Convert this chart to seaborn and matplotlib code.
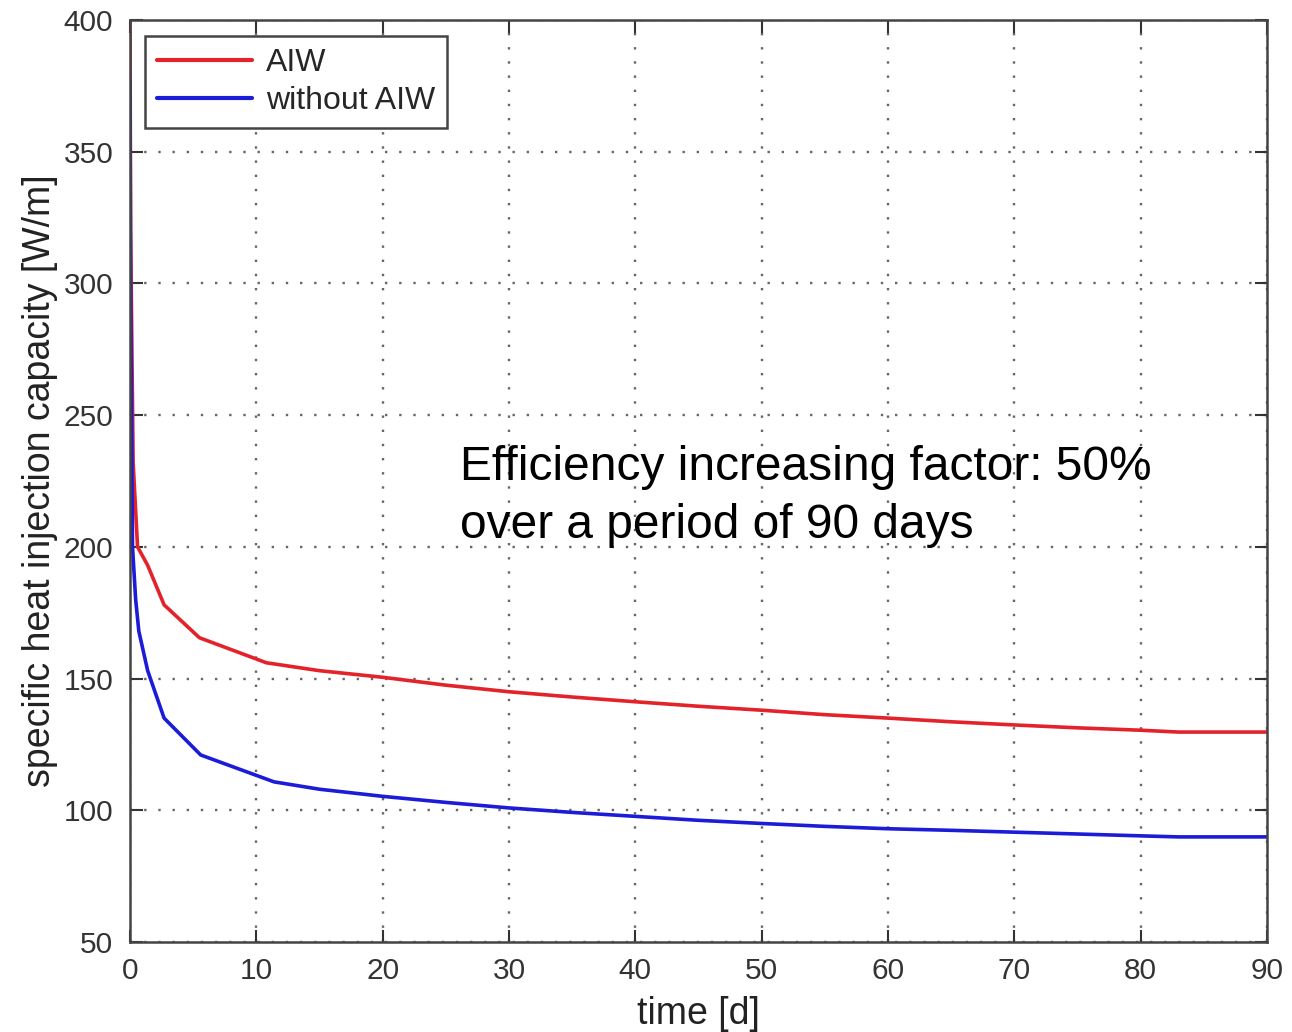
import matplotlib
matplotlib.use("Agg")
import matplotlib.pyplot as plt
import pandas as pd
import seaborn as sns

# time axis [d] and heat injection capacity [W/m]
t_aiw = [0, 0.05, 0.25, 0.6, 1.4, 2.7, 5.5, 10.8, 15, 20, 25, 30, 35, 40, 45, 50,
         55, 60, 65, 70, 75, 80, 83, 90]
q_aiw = [400, 320, 232, 200, 193, 178, 165.5, 156, 153, 150.5, 147.5, 145, 143, 141.2,
         139.5, 138, 136.3, 135, 133.6, 132.4, 131.3, 130.4, 129.7, 129.7]

t_noaiw = [0, 0.05, 0.2, 0.45, 0.7, 1.4, 2.7, 5.6, 11.4, 15, 20, 25, 30, 35, 40, 45,
           50, 55, 60, 65, 70, 75, 80, 83, 90]
q_noaiw = [377, 300, 200, 180, 168, 153, 135, 121, 110.8, 108, 105.3, 103, 100.9, 99.2,
           97.7, 96.2, 95, 93.9, 93, 92.4, 91.7, 91, 90.3, 89.9, 89.9]

series_names = ["AIW", "without AIW"]
x_ticks = [0, 10, 20, 30, 40, 50, 60, 70, 80, 90]
y_ticks = [50, 100, 150, 200, 250, 300, 350, 400]
note_lines = ["Efficiency increasing factor: 50%", "over a period of 90 days"]

df = pd.concat([
    pd.DataFrame({"time": t_aiw, "q": q_aiw, "case": series_names[0]}),
    pd.DataFrame({"time": t_noaiw, "q": q_noaiw, "case": series_names[1]}),
])

sns.set_style("ticks")
plt.rcParams["font.family"] = ["Liberation Sans", "DejaVu Sans"]

fig = plt.figure(figsize=(12.92, 10.32), dpi=100)
ax = fig.add_axes([0.1006, 0.0872, 0.880, 0.8934])

sns.lineplot(data=df, x="time", y="q", hue="case", palette=["#e3222a", "#1c1cd8"],
             linewidth=2.6, ax=ax, sort=False, estimator=None)

ax.set_xlim(0, 90)
ax.set_ylim(50, 400)
ax.set_xticks(x_ticks)
ax.set_yticks(y_ticks)
ax.grid(True, linestyle=(0, (1, 5)), linewidth=1.7, color="#666666")
ax.tick_params(direction="in", length=9, width=1.5, labelsize=21.5, colors="#333333",
               top=True, right=True, pad=12)
ax.tick_params(axis="x", pad=11)
for s in ax.spines.values():
    s.set_color("#444444")
    s.set_linewidth(1.8)

ax.set_xlabel("time [d]", fontsize=27, color="#222222", labelpad=8)
ax.set_ylabel("specific heat injection capacity [W/m]", fontsize=27, color="#222222",
              labelpad=4)

# annotation, one call per line so each baseline sits where it does in the figure
ax.text(26.15, 225.4, note_lines[0], fontsize=34.5, color="black", va="baseline")
ax.text(26.15, 203.3, note_lines[1], fontsize=34.5, color="black", va="baseline")

leg = ax.legend(loc="upper left", fontsize=23, frameon=True, fancybox=False,
                handlelength=2.95, handletextpad=0.45, borderpad=0.38,
                labelspacing=0.25, borderaxespad=0, bbox_to_anchor=(0.0135, 0.983))
leg.get_frame().set_edgecolor("#444444")
leg.get_frame().set_linewidth(1.8)
leg.get_frame().set_alpha(1)
for line in leg.get_lines():
    line.set_linewidth(3)

fig.savefig("out.png", dpi=100)
